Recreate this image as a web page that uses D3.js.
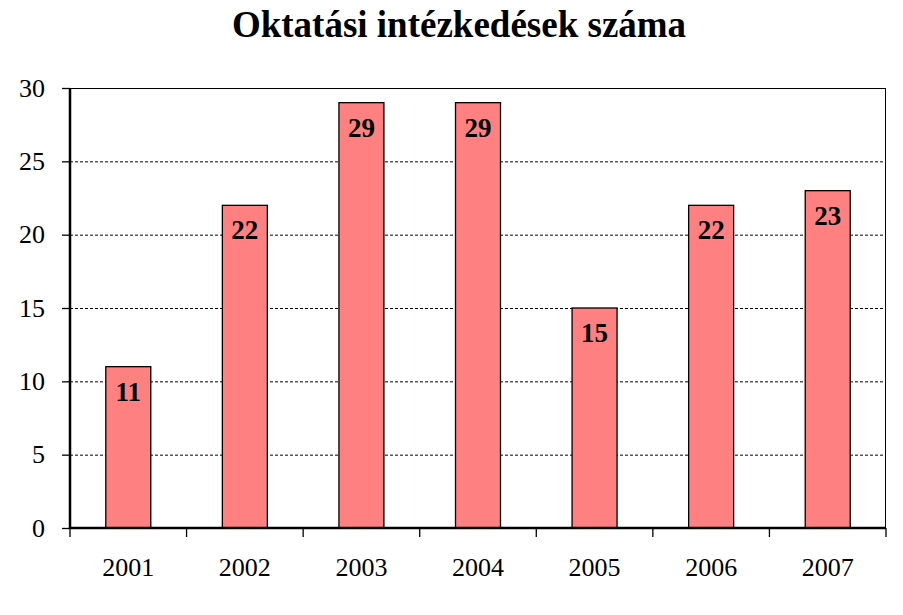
<!DOCTYPE html>
<html>
<head>
<meta charset="utf-8">
<script src="https://d3js.org/d3.v7.min.js"></script>
<style>
	body { margin: 0; background: #fff; }
	svg text { font-family: "Liberation Serif", "DejaVu Serif", serif !important; }
</style>
</head>
<body>
<svg id="chart" width="903" height="615"></svg>
<script>
	var years = ["2001", "2002", "2003", "2004", "2005", "2006", "2007"];
	var counts = [11, 22, 29, 29, 15, 22, 23];
	var yTicks = [0, 5, 10, 15, 20, 25, 30];

	var svg = d3.select("#chart");
	var pLeft = 70, pRight = 886, pTop = 88, pBottom = 528;

	var x = d3.scaleBand().domain(years).range([pLeft, pRight]).paddingInner(0.614).paddingOuter(0.307);
	var xc = d3.scaleBand().domain(years).range([pLeft, pRight]);
	var y = d3.scaleLinear().domain([0, 30]).range([pBottom, pTop]);

	svg.append("text")
		.attr("x", 459).attr("y", 37)
		.attr("text-anchor", "middle")
		.style("font-size", "37px").style("font-weight", "bold")
		.text("Oktatási intézkedések száma");

	// grid lines
	svg.append("g").selectAll("line")
		.data(yTicks.filter(function(d){ return d > 0 && d < 30; }))
		.enter().append("line")
		.attr("x1", pLeft).attr("x2", pRight)
		.attr("y1", function(d){ return y(d) + 0.5; }).attr("y2", function(d){ return y(d) + 0.5; })
		.attr("stroke", "#000").attr("stroke-width", 1).attr("stroke-dasharray", "3,2");

	// plot frame top / right
	svg.append("line").attr("x1", pLeft).attr("x2", pRight).attr("y1", pTop + 0.5).attr("y2", pTop + 0.5).attr("stroke", "#000");
	svg.append("line").attr("x1", pRight - 0.5).attr("x2", pRight - 0.5).attr("y1", pTop).attr("y2", pBottom).attr("stroke", "#000");

	// bars
	svg.append("g").selectAll("rect")
		.data(counts)
		.enter().append("rect")
		.attr("x", function(d, i){ return x(years[i]); })
		.attr("width", x.bandwidth())
		.attr("y", function(d){ return y(d); })
		.attr("height", function(d){ return pBottom - y(d); })
		.attr("fill", "#FF8080").attr("stroke", "#000").attr("stroke-width", 1.3);

	// labels
	svg.append("g").selectAll("text")
		.data(counts)
		.enter().append("text")
		.attr("x", function(d, i){ return x(years[i]) + x.bandwidth() / 2; })
		.attr("y", function(d){ return y(d) + 34; })
		.attr("text-anchor", "middle")
		.style("font-size", "27px").style("font-weight", "bold")
		.text(function(d){ return d; });

	// y axis
	var yAxis = svg.append("g").attr("transform", "translate(" + pLeft + ",0)")
		.call(d3.axisLeft(y).tickValues(yTicks).tickSize(8).tickPadding(17));
	yAxis.select(".domain").attr("stroke-width", 2.5).attr("d", "M0," + pTop + "V" + pBottom);
	yAxis.selectAll(".tick line").attr("stroke-width", 1.3);
	yAxis.selectAll("text").style("font-size", "26px").attr("fill", "#000");

	// x axis
	var xAxis = svg.append("g").attr("transform", "translate(0," + pBottom + ")")
		.call(d3.axisBottom(xc).tickSize(0).tickPadding(30));
	xAxis.select(".domain").attr("stroke-width", 2.5).attr("d", "M" + pLeft + ",0H" + pRight);
	xAxis.selectAll("text").style("font-size", "26px").attr("fill", "#000");
	xAxis.append("g").selectAll("line")
		.data(years.concat(["end"]))
		.enter().append("line")
		.attr("x1", function(d, i){ return pLeft + i * xc.step(); })
		.attr("x2", function(d, i){ return pLeft + i * xc.step(); })
		.attr("y1", 0).attr("y2", 9)
		.attr("stroke", "#000").attr("stroke-width", 1.3);
</script>
</body>
</html>
